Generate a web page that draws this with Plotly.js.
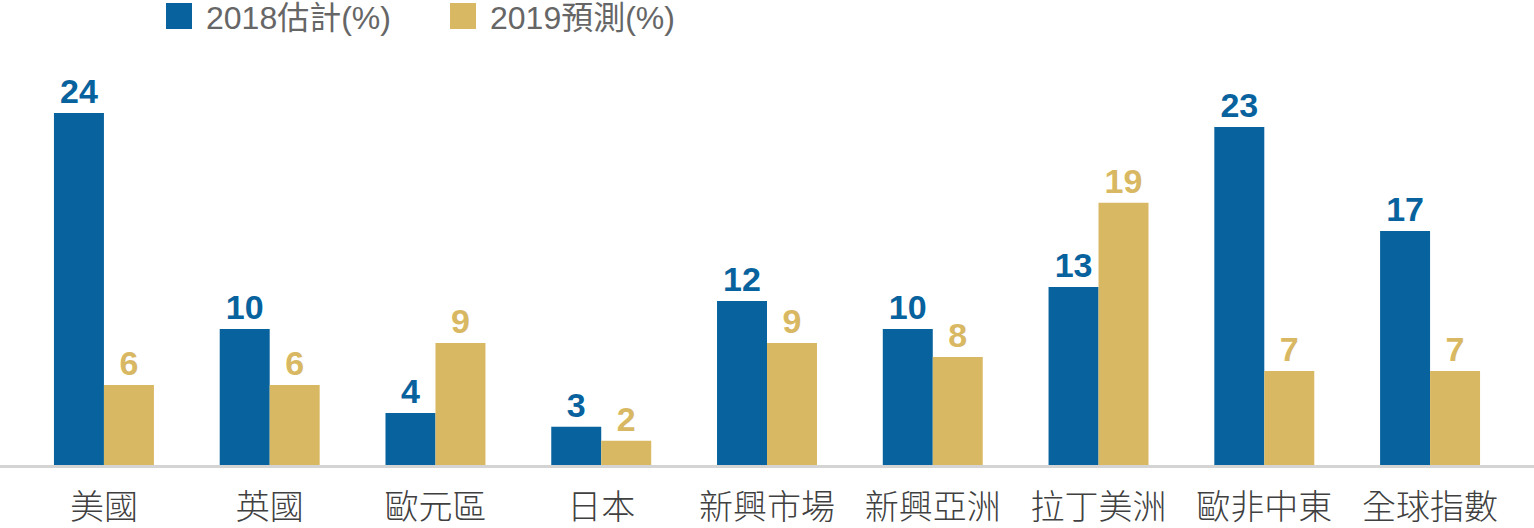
<!DOCTYPE html>
<html>
<head>
<meta charset="utf-8">
<script src="https://cdn.plot.ly/plotly-3.0.1.min.js"></script>
<style>html,body{margin:0;padding:0;background:#fff;}#chart{width:1534px;height:528px;}</style>
</head>
<body>
<div id="chart"></div>
<script>
var categories = ['美國','英國','歐元區','日本','新興市場','新興亞洲','拉丁美洲','歐非中東','全球指數'];
var series2018 = [24.0, 9.27, 3.55, 2.61, 11.18, 9.27, 12.14, 23.05, 15.95];
var series2019 = [5.45, 5.45, 8.32, 1.66, 8.32, 7.36, 17.88, 6.41, 6.41];
var labels2018 = ['24','10','4','3','12','10','13','23','17'];
var labels2019 = ['6','6','9','2','9','8','19','7','7'];
var seriesNames = ['2018估計(%)','2019預測(%)'];
var colors = ['#07629d','#d9b863'];

var W = 1534, H = 528, T = 60, B = 63;
var plotH = H - T - B;
function px(x){return x / W;}
function py(y){return (H - B - y) / plotH;}

var labelFont = 'Liberation Sans, Arial, sans-serif';
var cjkFont = 'Noto Sans CJK TC, Noto Sans, sans-serif';
var legendFont = 'Liberation Sans, Noto Sans CJK TC, sans-serif';

var traces = [
  {type:'bar', x:categories, y:series2018, name:seriesNames[0], marker:{color:colors[0]},
   text:labels2018, textposition:'outside', texttemplate:'%{text}',
   textfont:{family:labelFont, size:34, color:colors[0], weight:'bold'}, cliponaxis:false, hoverinfo:'x+y'},
  {type:'bar', x:categories, y:series2019, name:seriesNames[1], marker:{color:colors[1]},
   text:labels2019, textposition:'outside', texttemplate:'%{text}',
   textfont:{family:labelFont, size:34, color:colors[1], weight:'bold'}, cliponaxis:false, hoverinfo:'x+y'}
];

var legendX = [166, 450];
var legendTextX = [204, 488];
var shapes = [], annotations = [];
for (var i = 0; i < 2; i++) {
  shapes.push({type:'rect', xref:'paper', yref:'paper', x0:px(legendX[i]), x1:px(legendX[i]+26),
    y0:py(29), y1:py(3), fillcolor:colors[i], line:{width:0}});
  annotations.push({xref:'paper', yref:'paper', x:px(legendTextX[i]), y:py(18), xanchor:'left', yanchor:'middle',
    text:seriesNames[i], showarrow:false, font:{family:legendFont, size:32, color:'#666666'}});
}

var layout = {
  width:W, height:H,
  margin:{l:0, r:0, t:T, b:B, pad:0},
  paper_bgcolor:'#ffffff', plot_bgcolor:'#ffffff',
  showlegend:false,
  barmode:'group', bargap:0.397, bargroupgap:0,
  xaxis:{type:'category', range:[-0.627, 8.627], showline:true, linecolor:'#d4d4d4', linewidth:3,
    showgrid:false, zeroline:false, ticks:'', ticklabelstandoff:10,
    tickfont:{family:cjkFont, size:34, color:'#404040', weight:300}, fixedrange:true},
  yaxis:{range:[0, plotH/14.667], visible:false, showgrid:false, zeroline:false, fixedrange:true},
  shapes:shapes, annotations:annotations
};

Plotly.newPlot('chart', traces, layout, {displayModeBar:false, staticPlot:true});
</script>
</body>
</html>
